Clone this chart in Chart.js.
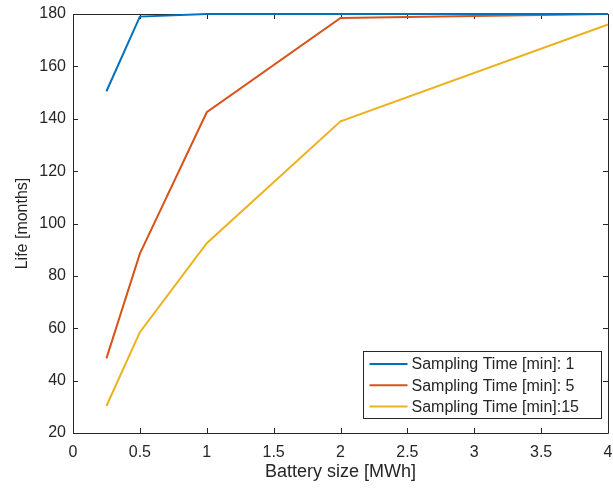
<!DOCTYPE html>
<html lang="en">
<head>
  <meta charset="UTF-8">
  <script src="https://cdn.jsdelivr.net/npm/chart.js"></script>
  <title>Battery life</title>
  <style>
    html, body { margin: 0; padding: 0; background: #fff; }
    #wrap { width: 613px; height: 489px; }
  </style>
</head>
<body>
  <div id="wrap"><canvas id="grafico"></canvas></div>

<script>
  // dados
  const tamanhos = [0.25, 0.5, 1, 2, 4];
  const vida1 = [150.5, 179, 180, 180, 180];
  const vida5 = [48.5, 88.5, 142.5, 178.5, 180];
  const vida15 = [30.3, 58.5, 92.5, 139, 176];
  const rotulos = ['Sampling Time [min]: 1', 'Sampling Time [min]: 5', 'Sampling Time [min]:15'];
  const cores = ['#0072BD', '#D95319', '#EDB120'];
  const ticksX = [0, 0.5, 1, 1.5, 2, 2.5, 3, 3.5, 4];
  const ticksY = [20, 40, 60, 80, 100, 120, 140, 160, 180];

  const corEixo = '#262626';
  const fonte = 'Liberation Sans, Arial, Helvetica, sans-serif';

  function serie(ys) {
    return tamanhos.map((x, i) => ({ x: x, y: ys[i] }));
  }

  // caixa do eixo com ticks para dentro (desenhada antes das linhas)
  const caixaMatlab = {
    id: 'caixaMatlab',
    beforeDatasetsDraw(chart) {
      const ctx = chart.ctx;
      const a = chart.chartArea;
      const sx = chart.scales.x, sy = chart.scales.y;
      const tl = 5;
      ctx.save();
      ctx.strokeStyle = corEixo;
      ctx.lineWidth = 1;
      ctx.beginPath();
      ctx.rect(Math.round(a.left) + 0.5, Math.round(a.top) + 0.5,
        Math.round(a.right - a.left), Math.round(a.bottom - a.top));
      ticksX.forEach(v => {
        const px = Math.round(sx.getPixelForValue(v)) + 0.5;
        ctx.moveTo(px, a.bottom); ctx.lineTo(px, a.bottom - tl);
        ctx.moveTo(px, a.top); ctx.lineTo(px, a.top + tl);
      });
      ticksY.forEach(v => {
        const py = Math.round(sy.getPixelForValue(v)) + 0.5;
        ctx.moveTo(a.left, py); ctx.lineTo(a.left + tl, py);
        ctx.moveTo(a.right, py); ctx.lineTo(a.right - tl, py);
      });
      ctx.stroke();
      ctx.restore();
    },
    // legenda no canto inferior direito
    afterDraw(chart) {
      const ctx = chart.ctx;
      const lx = 363.5, ly = 351.5, lw = 238, lh = 67;
      ctx.save();
      ctx.fillStyle = '#fff';
      ctx.fillRect(lx, ly, lw, lh);
      ctx.strokeStyle = corEixo;
      ctx.lineWidth = 1;
      ctx.strokeRect(lx, ly, lw, lh);
      ctx.font = '16px ' + fonte;
      ctx.textBaseline = 'middle';
      chart.data.datasets.forEach((ds, i) => {
        const y = ly + 12.5 + i * 21.3;
        ctx.strokeStyle = ds.borderColor;
        ctx.lineWidth = 2;
        ctx.beginPath();
        ctx.moveTo(lx + 6, y); ctx.lineTo(lx + 44, y);
        ctx.stroke();
        ctx.fillStyle = corEixo;
        ctx.fillText(ds.label, lx + 48, y + 1);
      });
      ctx.restore();
    }
  };

  const dados = {
    datasets: [vida1, vida5, vida15].map((ys, i) => ({
      label: rotulos[i],
      data: serie(ys),
      borderColor: cores[i],
      backgroundColor: cores[i],
      borderWidth: 2,
      pointRadius: 0,
      tension: 0,
      fill: false,
      clip: false
    }))
  };

  const config = {
    type: 'line',
    data: dados,
    options: {
      responsive: true,
      maintainAspectRatio: false,
      animation: false,
      layout: { padding: { left: 8, right: 5, top: 14, bottom: 1 } },
      plugins: {
        legend: { display: false },
        tooltip: { enabled: false }
      },
      scales: {
        x: {
          type: 'linear',
          min: 0, max: 4,
          afterFit(s) { s.height = 55; s.paddingLeft = 0; s.paddingRight = 0; },
          afterBuildTicks(s) { s.ticks = ticksX.map(v => ({ value: v })); },
          grid: { display: false, drawTicks: false },
          border: { display: false },
          ticks: {
            padding: 10,
            color: corEixo,
            font: { family: fonte, size: 16 },
            maxRotation: 0,
            callback: v => String(v)
          },
          title: {
            display: true,
            text: 'Battery size [MWh]',
            color: corEixo,
            font: { family: fonte, size: 18 },
            padding: { top: 0, bottom: 5 }
          }
        },
        y: {
          type: 'linear',
          min: 20, max: 180,
          afterFit(s) { s.width = 65; s.paddingTop = 0; s.paddingBottom = 0; },
          afterBuildTicks(s) { s.ticks = ticksY.map(v => ({ value: v })); },
          grid: { display: false, drawTicks: false },
          border: { display: false },
          ticks: {
            padding: 7,
            color: corEixo,
            font: { family: fonte, size: 16 }
          },
          title: {
            display: true,
            text: 'Life [months]',
            color: corEixo,
            font: { family: fonte, size: 16 },
            padding: { top: 5, bottom: 0 }
          }
        }
      }
    },
    plugins: [caixaMatlab]
  };

  let meuGrafico = new Chart(document.getElementById('grafico'), config);
</script>
</body>
</html>
